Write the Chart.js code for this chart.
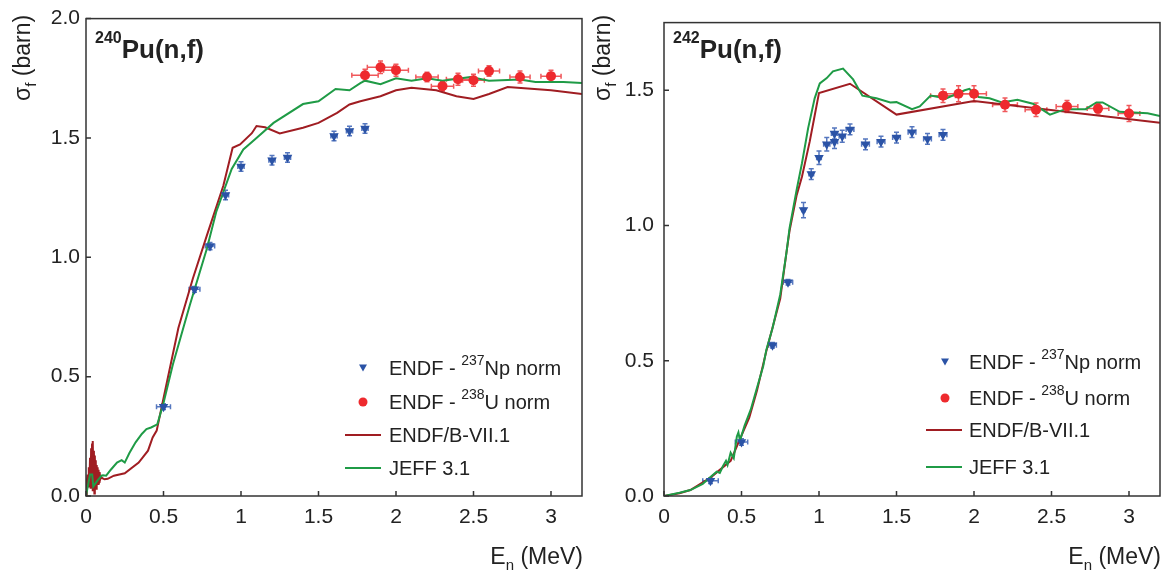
<!DOCTYPE html>
<html>
<head>
<meta charset="utf-8">
<script src="https://cdn.jsdelivr.net/npm/chart.js@4.4.0/dist/chart.umd.min.js"></script>
<style>
  html, body { margin: 0; padding: 0; background: #fff; }
  #wrap { position: relative; width: 1169px; height: 574px; }
  canvas { position: absolute; top: 0; }
</style>
</head>
<body>
<div id="wrap">
  <canvas id="pu240" width="600" height="574" style="left:0"></canvas>
  <canvas id="pu242" width="579" height="574" style="left:590px"></canvas>
</div>
<script>
// TICKS
const xTickVals = [0, 0.5, 1, 1.5, 2, 2.5, 3]
const yTicks240 = [0, 0.5, 1, 1.5, 2]
const yTicks242 = [0, 0.5, 1, 1.5]

// 240Pu DATA
const np240E = [0.5, 0.7, 0.8, 0.9, 1.0, 1.2, 1.3, 1.6, 1.7, 1.8]
const np240Sig = [0.374, 0.866, 1.047, 1.261, 1.38, 1.407, 1.418, 1.508, 1.529, 1.54]
const np240dE = [0.045, 0.035, 0.03, 0.02, 0.02, 0.02, 0.02, 0.02, 0.02, 0.02]
const np240dSig = [0.012, 0.012, 0.015, 0.02, 0.02, 0.02, 0.02, 0.02, 0.02, 0.02]

const u240E = [1.8, 1.9, 2.0, 2.2, 2.3, 2.4, 2.5, 2.6, 2.8, 3.0]
const u240Sig = [1.763, 1.796, 1.784, 1.755, 1.717, 1.746, 1.742, 1.78, 1.755, 1.759]
const u240dE = [0.085, 0.085, 0.08, 0.072, 0.072, 0.075, 0.07, 0.068, 0.065, 0.065]
const u240dSig = [0.025, 0.026, 0.025, 0.02, 0.02, 0.025, 0.025, 0.022, 0.025, 0.025]

const endf240E = [0, 0.005, 0.01, 0.014, 0.018, 0.022, 0.026, 0.03, 0.033, 0.036, 0.039, 0.042, 0.045, 0.048, 0.051, 0.054, 0.057, 0.06,
  0.063, 0.066, 0.069, 0.072, 0.075, 0.078, 0.081, 0.084, 0.088, 0.092, 0.097, 0.105, 0.12, 0.14, 0.18, 0.25, 0.34, 0.4, 0.43, 0.456,
  0.51, 0.596, 0.69, 0.78, 0.886, 0.946, 0.994, 1.07, 1.10, 1.155, 1.25, 1.40, 1.50, 1.62, 1.70, 1.77, 1.9, 2.0, 2.1, 2.26,
  2.39, 2.5, 2.6, 2.72, 2.85, 3.0, 3.2]
const endf240Sig = [0, 0.06, 0.09, 0.04, 0.12, 0.05, 0.16, 0.03, 0.2, 0.06, 0.22, 0.02, 0.23, 0.07, 0.19, 0.01, 0.17, 0.06,
  0.15, 0.03, 0.13, 0.07, 0.12, 0.05, 0.11, 0.06, 0.1, 0.07, 0.08, 0.075, 0.07, 0.072, 0.085, 0.095, 0.14, 0.19, 0.245, 0.274,
  0.44, 0.704, 0.912, 1.092, 1.30, 1.459, 1.473, 1.52, 1.55, 1.545, 1.519, 1.543, 1.563, 1.605, 1.64, 1.654, 1.675, 1.70, 1.71, 1.70,
  1.675, 1.663, 1.684, 1.713, 1.707, 1.70, 1.684]

const jeff240E = [0, 0.026, 0.04, 0.047, 0.075, 0.1, 0.11, 0.13, 0.16, 0.2, 0.23, 0.25, 0.28, 0.32, 0.36, 0.39, 0.42, 0.46, 0.5, 0.56,
  0.67, 0.78, 0.84, 0.94, 1.015, 1.10, 1.21, 1.40, 1.50, 1.61, 1.70, 1.77, 1.8, 1.9, 2.0, 2.1, 2.2, 2.3, 2.48, 2.6,
  2.8, 2.9, 3.08, 3.2]
const jeff240Sig = [0, 0.09, 0.09, 0.04, 0.065, 0.085, 0.087, 0.085, 0.11, 0.14, 0.15, 0.14, 0.18, 0.225, 0.26, 0.28, 0.287, 0.30, 0.39, 0.55,
  0.80, 1.037, 1.19, 1.37, 1.452, 1.50, 1.563, 1.642, 1.654, 1.705, 1.70, 1.73, 1.74, 1.725, 1.75, 1.74, 1.75, 1.74, 1.755, 1.74,
  1.745, 1.734, 1.734, 1.73]

// 242Pu DATA
const np242E = [0.3, 0.5, 0.7, 0.8, 0.9, 0.95, 1.0, 1.05, 1.1, 1.1, 1.15, 1.2, 1.3, 1.4, 1.5, 1.6, 1.7, 1.8]
const np242Sig = [0.056, 0.20, 0.557, 0.79, 1.057, 1.19, 1.25, 1.30, 1.31, 1.34, 1.33, 1.355, 1.30, 1.31, 1.325, 1.345, 1.32, 1.335]
const np242dE = [0.05, 0.04, 0.025, 0.03, 0.01, 0.015, 0.015, 0.02, 0.02, 0.02, 0.02, 0.025, 0.025, 0.025, 0.025, 0.025, 0.025, 0.025]
const np242dSig = [0.01, 0.012, 0.01, 0.01, 0.028, 0.02, 0.025, 0.025, 0.025, 0.02, 0.022, 0.02, 0.02, 0.02, 0.02, 0.02, 0.02, 0.02]

const u242E = [1.8, 1.9, 2.0, 2.2, 2.4, 2.6, 2.8, 3.0]
const u242Sig = [1.48, 1.487, 1.487, 1.446, 1.428, 1.44, 1.432, 1.414]
const u242dE = [0.08, 0.08, 0.08, 0.08, 0.07, 0.07, 0.07, 0.07]
const u242dSig = [0.025, 0.03, 0.03, 0.025, 0.025, 0.022, 0.02, 0.03]

const endf242E = [0, 0.1, 0.17, 0.3, 0.43, 0.49, 0.55, 0.6, 0.66, 0.75, 0.79, 0.81, 0.855, 0.89, 0.94, 0.97, 1.0, 1.2, 1.5, 2.0, 3.2]
const endf242Sig = [0, 0.01, 0.022, 0.068, 0.13, 0.21, 0.29, 0.39, 0.535, 0.73, 0.90, 0.98, 1.11, 1.18, 1.31, 1.40, 1.49, 1.524, 1.41, 1.46, 1.38]

const jeff242E = [0, 0.1, 0.17, 0.25, 0.3, 0.34, 0.36, 0.38, 0.4, 0.41, 0.43, 0.45, 0.47, 0.48, 0.49, 0.52, 0.56, 0.6, 0.64, 0.66,
  0.7, 0.75, 0.79, 0.81, 0.855, 0.89, 0.93, 0.972, 1.005, 1.05, 1.09, 1.155, 1.22, 1.28, 1.37, 1.46, 1.5, 1.6, 1.65, 1.72,
  1.82, 1.94, 1.97, 2.03, 2.1, 2.18, 2.28, 2.38, 2.49, 2.59, 2.72, 2.79, 2.83, 2.94, 3.12, 3.2]
const jeff242Sig = [0, 0.012, 0.022, 0.045, 0.07, 0.09, 0.085, 0.11, 0.13, 0.115, 0.16, 0.14, 0.22, 0.235, 0.205, 0.26, 0.32, 0.40, 0.48, 0.54,
  0.62, 0.745, 0.90, 0.99, 1.13, 1.23, 1.36, 1.47, 1.525, 1.545, 1.57, 1.58, 1.54, 1.48, 1.47, 1.455, 1.456, 1.43, 1.44, 1.48,
  1.47, 1.50, 1.505, 1.475, 1.47, 1.455, 1.465, 1.45, 1.41, 1.43, 1.43, 1.455, 1.455, 1.42, 1.415, 1.405]

// STYLE
const FONT = '"Liberation Sans", Arial, sans-serif'
const BLUE = '#2b53a6'
const BLUE_ERR = '#5577bf'
const RED = '#ee2a2e'
const RED_ERR = '#f0585b'
const ENDF_COL = '#a01d22'
const JEFF_COL = '#1f9b46'
const AXIS_COL = '#333'

function pts(xs, ys, dxs, dys) {
  return xs.map((x, i) => ({ x: x, y: ys[i], dx: dxs ? dxs[i] : 0, dy: dys ? dys[i] : 0 }))
}

// text with super/subscripts: parts = [text, size, bold, dy]
function richText(ctx, parts, x, y, align) {
  let w = 0
  parts.forEach(p => {
    ctx.font = (p[2] ? 'bold ' : '') + p[1] + 'px ' + FONT
    w += ctx.measureText(p[0]).width
  })
  let cx = align === 'right' ? x - w : x
  parts.forEach(p => {
    ctx.font = (p[2] ? 'bold ' : '') + p[1] + 'px ' + FONT
    ctx.fillText(p[0], cx, y + p[3])
    cx += ctx.measureText(p[0]).width
  })
}

// PLUGIN: error bars, frame, inward ticks, titles, legend
const decoPlugin = {
  id: 'deco',
  beforeDatasetsDraw(chart) {
    const ctx = chart.ctx
    const xs = chart.scales.x, ys = chart.scales.y
    chart.data.datasets.forEach(ds => {
      if (!ds.errColor) return
      ctx.save()
      ctx.strokeStyle = ds.errColor
      ctx.lineWidth = 1.5
      ds.data.forEach(p => {
        const px = xs.getPixelForValue(p.x), py = ys.getPixelForValue(p.y)
        const x0 = xs.getPixelForValue(p.x - p.dx), x1 = xs.getPixelForValue(p.x + p.dx)
        const y0 = ys.getPixelForValue(p.y - p.dy), y1 = ys.getPixelForValue(p.y + p.dy)
        ctx.beginPath()
        ctx.moveTo(x0, py); ctx.lineTo(x1, py)
        ctx.moveTo(px, y0); ctx.lineTo(px, y1)
        ctx.moveTo(x0, py - 2.5); ctx.lineTo(x0, py + 2.5)
        ctx.moveTo(x1, py - 2.5); ctx.lineTo(x1, py + 2.5)
        ctx.moveTo(px - 2.5, y0); ctx.lineTo(px + 2.5, y0)
        ctx.moveTo(px - 2.5, y1); ctx.lineTo(px + 2.5, y1)
        ctx.stroke()
      })
      ctx.restore()
    })
  },
  afterDraw(chart) {
    const ctx = chart.ctx
    const a = chart.chartArea
    const d = chart.options.plugins.deco
    const xs = chart.scales.x, ys = chart.scales.y
    ctx.save()
    // frame
    ctx.strokeStyle = AXIS_COL
    ctx.lineWidth = 1.5
    ctx.strokeRect(a.left, a.top, a.right - a.left, a.bottom - a.top)
    // inward ticks
    ctx.beginPath()
    xTickVals.forEach(v => {
      const px = xs.getPixelForValue(v)
      ctx.moveTo(px, a.bottom); ctx.lineTo(px, a.bottom - 5)
    })
    d.yTicks.forEach(v => {
      const py = ys.getPixelForValue(v)
      ctx.moveTo(a.left, py); ctx.lineTo(a.left + 5, py)
    })
    ctx.stroke()

    ctx.fillStyle = '#222'
    ctx.textBaseline = 'alphabetic'
    // panel title
    richText(ctx, [[d.isotope, 16, true, -15], ['Pu(n,f)', 26, true, 0]], d.titleX, 58, 'left')
    // x-axis title
    richText(ctx, [['E', 23, false, 0], ['n', 15, false, 6], [' (MeV)', 23, false, 0]], a.right + 1, 564, 'right')
    // y-axis title
    ctx.save()
    ctx.translate(d.yTitleX, 101)
    ctx.rotate(-Math.PI / 2)
    richText(ctx, [['σ', 23, false, 0], ['f', 15, false, 6], [' (barn)', 23, false, 0]], 0, 0, 'left')
    ctx.restore()

    // legend
    const L = d.legend
    ctx.fillStyle = BLUE
    const r0 = L.rows[0]
    ctx.beginPath()
    ctx.moveTo(L.markerX - 4, r0 - 3.5); ctx.lineTo(L.markerX + 4, r0 - 3.5); ctx.lineTo(L.markerX, r0 + 3.5)
    ctx.closePath(); ctx.fill()
    ctx.fillStyle = RED
    ctx.beginPath(); ctx.arc(L.markerX, L.rows[1], 4.5, 0, Math.PI * 2); ctx.fill()
    ctx.lineWidth = 2
    ctx.strokeStyle = ENDF_COL
    ctx.beginPath(); ctx.moveTo(L.lineX0, L.rows[2]); ctx.lineTo(L.lineX1, L.rows[2]); ctx.stroke()
    ctx.strokeStyle = JEFF_COL
    ctx.beginPath(); ctx.moveTo(L.lineX0, L.rows[3]); ctx.lineTo(L.lineX1, L.rows[3]); ctx.stroke()
    ctx.fillStyle = '#222'
    richText(ctx, [['ENDF - ', 20, false, 0], ['237', 14, false, -10], ['Np norm', 20, false, 0]], L.textX, L.rows[0] + 7, 'left')
    richText(ctx, [['ENDF - ', 20, false, 0], ['238', 14, false, -10], ['U norm', 20, false, 0]], L.textX, L.rows[1] + 7, 'left')
    richText(ctx, [['ENDF/B-VII.1', 20, false, 0]], L.textX, L.rows[2] + 7, 'left')
    richText(ctx, [['JEFF 3.1', 20, false, 0]], L.textX, L.rows[3] + 7, 'left')
    ctx.restore()
  }
}

function makeChart(id, cfg) {
  const ctx = document.getElementById(id).getContext('2d')
  return new Chart(ctx, {
    type: 'scatter',
    data: {
      datasets: [
        {
          label: 'ENDF - 238U norm', data: pts(cfg.uE, cfg.uSig, cfg.udE, cfg.udSig),
          pointStyle: 'circle', pointRadius: 5, backgroundColor: RED, borderWidth: 0, errColor: RED_ERR
        },
        {
          label: 'ENDF - 237Np norm', data: pts(cfg.npE, cfg.npSig, cfg.npdE, cfg.npdSig),
          pointStyle: 'triangle', rotation: 180, pointRadius: 5.5, backgroundColor: BLUE, borderWidth: 0, errColor: BLUE_ERR
        },
        {
          label: 'JEFF 3.1', data: pts(cfg.jeffE, cfg.jeffSig), showLine: true, pointRadius: 0,
          borderColor: JEFF_COL, borderWidth: 2, tension: 0
        },
        {
          label: 'ENDF/B-VII.1', data: pts(cfg.endfE, cfg.endfSig), showLine: true, pointRadius: 0,
          borderColor: ENDF_COL, borderWidth: 2, tension: 0
        }
      ]
    },
    options: {
      responsive: false,
      animation: false,
      events: [],
      layout: { padding: cfg.padding },
      plugins: {
        legend: { display: false },
        tooltip: { enabled: false },
        deco: cfg.deco
      },
      scales: {
        x: {
          type: 'linear', min: 0, max: 3.2,
          afterFit(s) { s.height = 78 },
          afterBuildTicks(s) { s.ticks = xTickVals.map(v => ({ value: v })) },
          grid: { display: false, drawTicks: false },
          border: { display: false },
          ticks: { padding: 9, color: '#222', font: { family: FONT, size: 21 }, maxRotation: 0, callback: v => String(v) }
        },
        y: {
          type: 'linear', min: 0, max: cfg.yMax,
          afterFit(s) { s.width = cfg.yWidth },
          afterBuildTicks(s) { s.ticks = cfg.deco.yTicks.map(v => ({ value: v })) },
          grid: { display: false, drawTicks: false },
          border: { display: false },
          ticks: { padding: cfg.yPad, color: '#222', font: { family: FONT, size: 21 }, callback: v => v.toFixed(1) }
        }
      }
    },
    plugins: [decoPlugin]
  })
}

makeChart('pu240', {
  npE: np240E, npSig: np240Sig, npdE: np240dE, npdSig: np240dSig,
  uE: u240E, uSig: u240Sig, udE: u240dE, udSig: u240dSig,
  endfE: endf240E, endfSig: endf240Sig, jeffE: jeff240E, jeffSig: jeff240Sig,
  yMax: 2, yWidth: 86, yPad: 6,
  padding: { left: 0, right: 18, top: 15, bottom: 0 },
  deco: {
    yTicks: yTicks240, isotope: '240', titleX: 95, yTitleX: 30,
    legend: { markerX: 363, textX: 389, lineX0: 345, lineX1: 381, rows: [368, 402, 435, 468] }
  }
})

makeChart('pu242', {
  npE: np242E, npSig: np242Sig, npdE: np242dE, npdSig: np242dSig,
  uE: u242E, uSig: u242Sig, udE: u242dE, udSig: u242dSig,
  endfE: endf242E, endfSig: endf242Sig, jeffE: jeff242E, jeffSig: jeff242Sig,
  yMax: 1.75, yWidth: 74, yPad: 10,
  padding: { left: 0, right: 9, top: 15, bottom: 0 },
  deco: {
    yTicks: yTicks242, isotope: '242', titleX: 83, yTitleX: 20,
    legend: { markerX: 355, textX: 379, lineX0: 336, lineX1: 372, rows: [362, 398, 430, 467] }
  }
})
</script>
</body>
</html>
